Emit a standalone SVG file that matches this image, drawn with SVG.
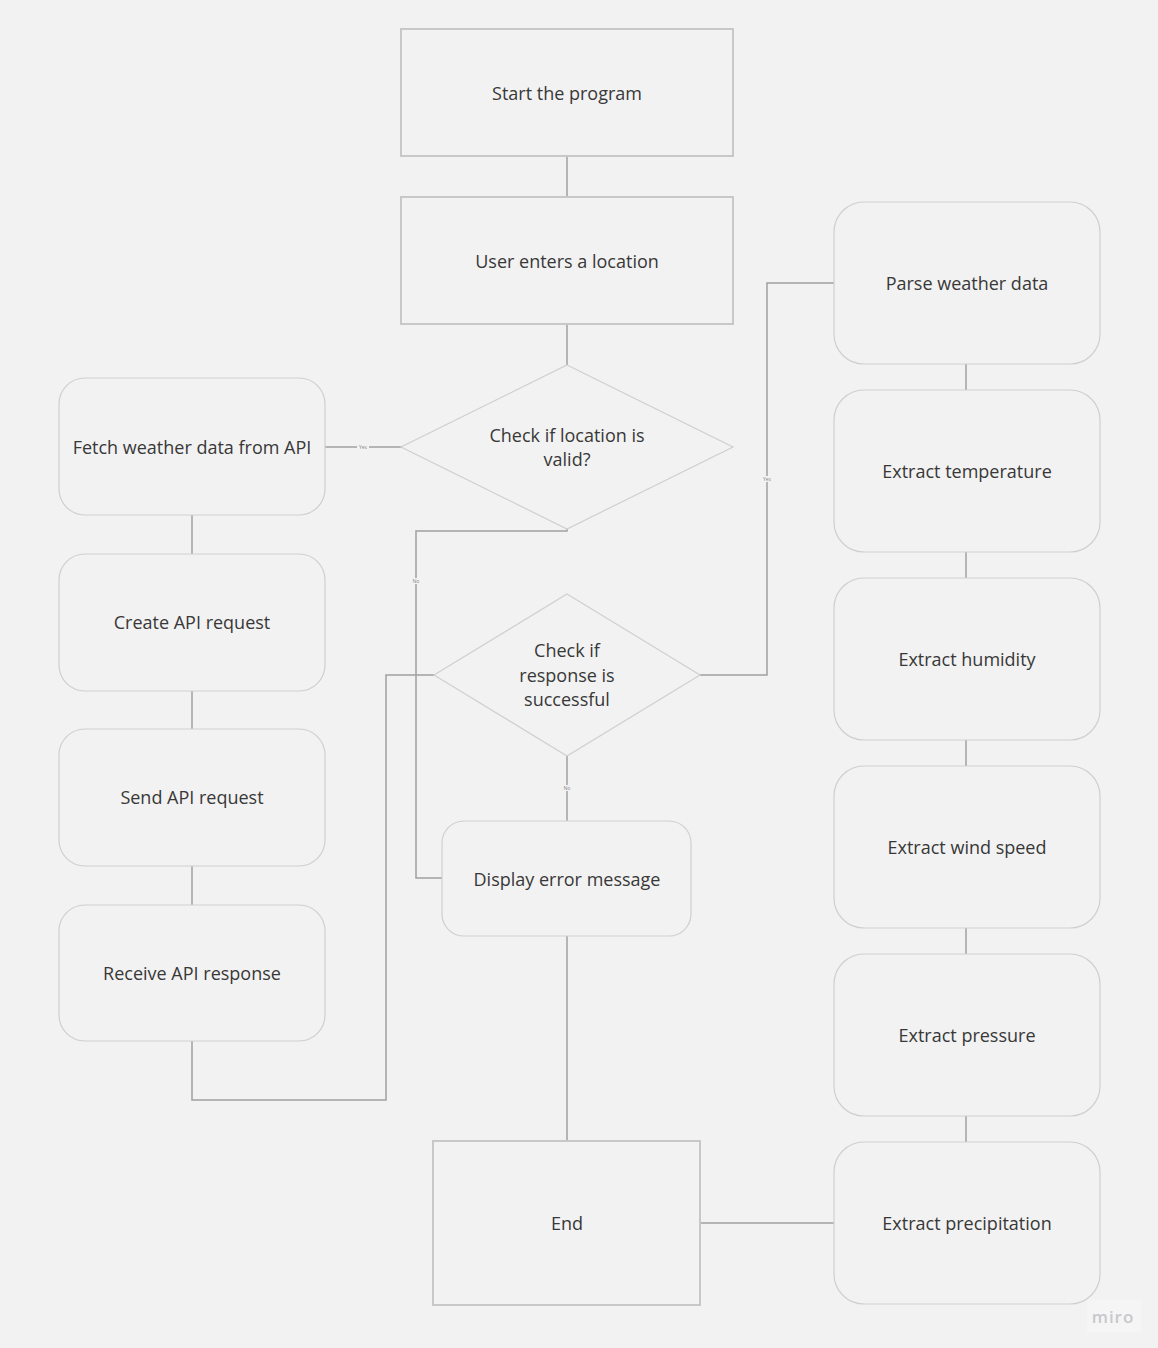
<svg xmlns="http://www.w3.org/2000/svg" width="1158" height="1348" viewBox="0 0 1158 1348">
  <style>
    .box { fill: #f2f2f2; stroke: #cfcfcf; stroke-width: 1.2; }
    .sq { fill: #f2f2f2; stroke: #c8c8c8; stroke-width: 2; }
    .lbl { font-family: "Open Sans", "Noto Sans", sans-serif; font-size: 18px; fill: #383838; text-anchor: middle; dominant-baseline: central; }
    .wire { fill: none; stroke: #a0a0a0; stroke-width: 1.5; }
    .tag { font-family: "Open Sans", sans-serif; font-size: 5px; fill: #888888; text-anchor: middle; dominant-baseline: central; }
    .tagbg { fill: #f2f2f2; }
  </style>
  <rect width="1158" height="1348" fill="#f2f2f2"/>

  <!-- connectors -->
  <g id="connectors">
    <path class="wire" d="M567 156 V197"/>
    <path class="wire" d="M567 324 V365"/>
    <path class="wire" d="M401 447 H325"/>
    <path class="wire" d="M567 529 V531 H416 V878 H442"/>
    <path class="wire" d="M192 515 V554"/>
    <path class="wire" d="M192 691 V729"/>
    <path class="wire" d="M192 866 V905"/>
    <path class="wire" d="M192 1041 V1100 H386 V675 H434"/>
    <path class="wire" d="M700 675 H767 V283 H834"/>
    <path class="wire" d="M567 756 V821"/>
    <path class="wire" d="M567 936 V1141"/>
    <path class="wire" d="M966 364 V390"/>
    <path class="wire" d="M966 552 V578"/>
    <path class="wire" d="M966 740 V766"/>
    <path class="wire" d="M966 928 V954"/>
    <path class="wire" d="M966 1116 V1142"/>
    <path class="wire" d="M700 1223 H834"/>
    <rect class="tagbg" x="357" y="444" width="12" height="6"/>
    <text class="tag" x="363" y="447">Yes</text>
    <rect class="tagbg" x="411" y="578" width="10" height="6"/>
    <text class="tag" x="416" y="581">No</text>
    <rect class="tagbg" x="761" y="476" width="12" height="6"/>
    <text class="tag" x="767" y="479">Yes</text>
    <rect class="tagbg" x="562" y="785" width="10" height="6"/>
    <text class="tag" x="567" y="788">No</text>
  </g>

  <!-- center column -->
  <g id="start">
    <rect class="sq" x="401" y="29" width="332" height="127"/>
    <text class="lbl" x="567" y="93">Start the program</text>
  </g>
  <g id="user-input">
    <rect class="sq" x="401" y="197" width="332" height="127"/>
    <text class="lbl" x="567" y="261">User enters a location</text>
  </g>
  <g id="check-location">
    <polygon class="box" points="567,365 733,447 567,529 401,447"/>
    <text class="lbl" x="567" y="435">Check if location is</text>
    <text class="lbl" x="567" y="459">valid?</text>
  </g>
  <g id="check-response">
    <polygon class="box" points="567,594 700,675 567,756 434,675"/>
    <text class="lbl" x="567" y="650">Check if</text>
    <text class="lbl" x="567" y="675">response is</text>
    <text class="lbl" x="567" y="699">successful</text>
  </g>
  <g id="display-error">
    <rect class="box" x="442" y="821" width="249" height="115" rx="22"/>
    <text class="lbl" x="567" y="879">Display error message</text>
  </g>
  <g id="end">
    <rect class="sq" x="433" y="1141" width="267" height="164"/>
    <text class="lbl" x="567" y="1223">End</text>
  </g>

  <!-- left column -->
  <g id="fetch">
    <rect class="box" x="59" y="378" width="266" height="137" rx="26"/>
    <text class="lbl" x="192" y="447">Fetch weather data from API</text>
  </g>
  <g id="create-request">
    <rect class="box" x="59" y="554" width="266" height="137" rx="26"/>
    <text class="lbl" x="192" y="622">Create API request</text>
  </g>
  <g id="send-request">
    <rect class="box" x="59" y="729" width="266" height="137" rx="26"/>
    <text class="lbl" x="192" y="797">Send API request</text>
  </g>
  <g id="receive-response">
    <rect class="box" x="59" y="905" width="266" height="136" rx="26"/>
    <text class="lbl" x="192" y="973">Receive API response</text>
  </g>

  <!-- right column -->
  <g id="parse">
    <rect class="box" x="834" y="202" width="266" height="162" rx="30"/>
    <text class="lbl" x="967" y="283">Parse weather data</text>
  </g>
  <g id="temperature">
    <rect class="box" x="834" y="390" width="266" height="162" rx="30"/>
    <text class="lbl" x="967" y="471">Extract temperature</text>
  </g>
  <g id="humidity">
    <rect class="box" x="834" y="578" width="266" height="162" rx="30"/>
    <text class="lbl" x="967" y="659">Extract humidity</text>
  </g>
  <g id="wind-speed">
    <rect class="box" x="834" y="766" width="266" height="162" rx="30"/>
    <text class="lbl" x="967" y="847">Extract wind speed</text>
  </g>
  <g id="pressure">
    <rect class="box" x="834" y="954" width="266" height="162" rx="30"/>
    <text class="lbl" x="967" y="1035">Extract pressure</text>
  </g>
  <g id="precipitation">
    <rect class="box" x="834" y="1142" width="266" height="162" rx="30"/>
    <text class="lbl" x="967" y="1223">Extract precipitation</text>
  </g>

  <!-- watermark -->
  <rect x="1087" y="1300" width="54" height="32" fill="#f5f5f5"/>
  <text x="1113" y="1316" font-family="'Open Sans', sans-serif" font-size="17" font-weight="600" letter-spacing="1" fill="#c8c8cc" text-anchor="middle" dominant-baseline="central">miro</text>
</svg>
